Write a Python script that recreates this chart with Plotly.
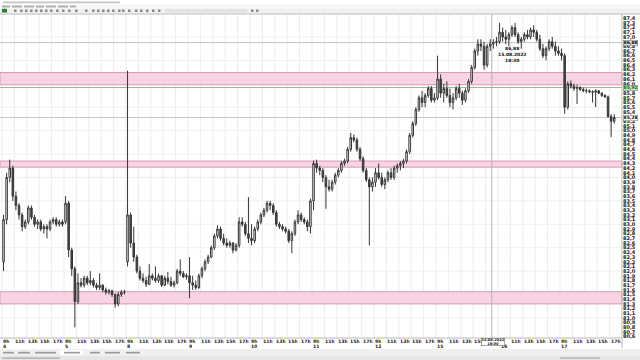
import plotly.graph_objects as go

# ---------------- data (30-min candles) ----------------
day_labels = ["4", "5", "8", "9", "10", "11", "12", "15", "16", "17"]
hour_labels = ["9h", "11h", "13h", "15h", "17h"]

opens = [
    # 4
    82.2,83.1,84.0,84.2,83.6,83.4,83.2,82.95,83.05,83.35,83.15,83.0,83.05,82.9,82.95,82.9,83.05,83.1,83.0,83.05,
    # 5
    83.05,83.45,82.45,82.05,81.35,81.75,81.7,81.85,81.75,81.8,81.7,81.65,81.7,81.6,81.55,81.58,81.5,81.3,81.5,81.55,
    # 8
    82.2,83.2,82.6,82.3,82.0,81.85,81.8,81.72,81.9,81.85,81.8,81.9,81.7,81.85,81.78,81.7,81.75,82.0,81.95,81.88,
    # 9
    81.9,81.75,81.7,81.65,81.9,82.05,82.2,82.3,82.5,82.75,82.9,82.7,82.6,82.55,82.6,82.45,82.55,83.05,83.0,82.8,
    # 10
    82.7,82.65,82.9,83.05,83.2,83.3,83.45,83.4,83.25,83.0,82.95,82.9,82.85,82.65,82.8,83.05,83.2,83.1,83.05,82.95,
    # 11
    83.5,84.3,84.2,84.15,84.0,83.8,83.75,83.9,84.05,84.15,84.3,84.35,84.6,84.85,84.8,84.6,84.4,84.15,83.95,83.8,
    # 12
    83.9,84.1,84.0,83.85,83.95,84.1,84.0,84.2,84.25,84.3,84.35,84.55,84.9,85.15,85.45,85.7,85.6,85.75,85.9,85.65,
    # 15
    85.7,86.1,85.8,85.9,85.75,85.6,85.7,85.9,85.8,85.65,85.85,86.05,86.35,86.7,86.85,86.8,86.4,86.8,86.85,86.88,
    # 16
    86.9,87.1,87.0,86.95,87.05,87.2,87.05,86.9,86.95,87.05,87.0,87.15,87.1,86.95,86.75,86.6,86.75,86.9,86.8,86.7,
    # 17
    86.65,86.6,85.5,86.0,85.95,85.9,85.92,85.88,85.85,85.85,85.83,85.82,85.85,85.8,85.75,85.72,85.3,85.2,
]
highs = [
    83.2,84.1,84.38,84.25,83.7,83.45,83.25,83.1,83.4,83.4,83.2,83.1,83.1,83.0,83.0,83.1,83.15,83.15,83.1,83.1,
    83.6,83.5,82.5,82.1,81.95,81.85,81.9,81.9,82.0,81.85,81.75,81.95,81.72,81.65,81.62,81.6,81.52,81.55,81.6,81.6,
    86.28,83.25,82.95,82.35,82.1,81.95,81.88,82.15,81.95,82.1,81.95,81.92,81.9,81.98,81.88,81.8,82.05,82.25,82.0,81.95,
    82.3,81.9,81.8,81.95,82.1,82.25,82.35,82.55,82.8,82.98,82.95,82.8,82.7,82.65,82.62,82.6,83.15,83.15,83.05,83.58,
    83.0,82.95,83.1,83.25,83.35,83.5,83.5,83.45,83.3,83.05,83.0,82.95,82.9,82.85,83.1,83.3,83.25,83.15,83.1,83.55,
    84.36,84.38,84.25,84.2,84.05,83.95,83.95,84.1,84.2,84.35,84.4,84.65,84.95,84.92,84.85,84.65,84.45,84.2,84.0,84.0,
    84.2,84.3,84.1,84.0,84.15,84.2,84.25,84.3,84.35,84.4,84.6,84.95,85.2,85.5,85.75,85.85,85.8,85.95,85.95,85.8,
    86.6,86.2,86.0,86.05,85.9,85.8,85.95,86.0,85.85,85.9,86.1,86.4,86.75,86.95,86.95,86.9,86.85,86.95,86.95,87.0,
    87.3,87.2,87.15,87.1,87.25,87.3,87.1,87.0,87.1,87.15,87.2,87.25,87.15,87.05,86.85,86.8,86.95,87.0,86.9,86.8,
    86.75,86.65,86.05,86.07,86.0,85.98,85.95,85.92,85.9,85.88,85.86,85.88,85.86,85.82,85.78,85.75,85.35,85.35,
]
lows = [
    82.0,83.0,83.9,83.5,83.3,83.1,82.85,82.9,83.0,83.1,82.95,82.9,82.85,82.8,82.7,82.85,83.0,82.95,82.95,82.95,
    83.0,82.3,81.9,80.8,81.3,81.65,81.65,81.7,81.7,81.65,81.6,81.6,81.55,81.5,81.5,81.45,81.22,81.25,81.45,81.5,
    82.1,82.5,82.2,81.95,81.8,81.75,81.66,81.7,81.8,81.75,81.75,81.66,81.68,81.72,81.66,81.65,81.72,81.9,81.85,81.82,
    81.42,81.6,81.6,81.62,81.85,82.0,82.15,82.28,82.45,82.7,82.65,82.55,82.5,82.5,82.38,82.42,82.5,82.95,82.75,82.6,
    82.55,82.6,82.85,83.0,83.15,83.25,83.3,83.2,82.95,82.9,82.85,82.8,82.6,82.38,82.75,83.0,83.05,83.0,82.85,82.8,
    83.3,84.1,84.05,83.9,83.33,83.7,83.7,83.85,84.0,84.1,84.25,84.3,84.55,84.75,84.55,84.35,84.1,83.9,82.55,83.7,
    83.8,83.95,83.8,83.75,83.9,83.95,83.95,84.1,84.15,84.2,84.3,84.5,84.85,85.1,85.4,85.5,85.5,85.7,85.6,85.6,
    85.65,85.7,85.6,85.7,85.5,85.45,85.65,85.7,85.55,85.6,85.8,86.0,86.3,86.6,86.7,86.3,86.35,86.7,86.75,86.8,
    86.85,86.9,86.85,86.8,87.0,87.0,86.85,86.75,86.9,86.95,86.95,87.0,86.9,86.7,86.55,86.5,86.7,86.75,86.6,86.6,
    86.5,85.36,85.45,85.9,85.85,85.57,85.85,85.82,85.8,85.8,85.6,85.5,85.78,85.72,85.7,85.28,84.86,85.15,
]
closes = [
    83.1,84.0,84.2,83.6,83.4,83.2,82.95,83.05,83.35,83.15,83.0,83.05,82.9,82.95,82.9,83.05,83.1,83.0,83.05,83.0,
    83.45,82.45,82.05,81.35,81.75,81.7,81.85,81.75,81.8,81.7,81.65,81.7,81.6,81.55,81.58,81.5,81.3,81.5,81.55,81.55,
    83.2,82.6,82.3,82.0,81.85,81.8,81.72,81.9,81.85,81.8,81.9,81.7,81.85,81.78,81.7,81.75,82.0,81.95,81.88,81.9,
    81.75,81.7,81.65,81.9,82.05,82.2,82.3,82.5,82.75,82.9,82.7,82.6,82.55,82.6,82.45,82.55,83.05,83.0,82.8,82.7,
    82.65,82.9,83.05,83.2,83.3,83.45,83.4,83.25,83.0,82.95,82.9,82.85,82.65,82.8,83.05,83.2,83.1,83.05,82.95,83.5,
    84.3,84.2,84.15,84.0,83.8,83.75,83.9,84.05,84.15,84.3,84.35,84.6,84.85,84.8,84.6,84.4,84.15,83.95,83.8,83.9,
    84.1,84.0,83.85,83.95,84.1,84.0,84.2,84.25,84.3,84.35,84.55,84.9,85.15,85.45,85.7,85.6,85.75,85.9,85.65,85.7,
    86.1,85.8,85.9,85.75,85.6,85.7,85.9,85.8,85.65,85.85,86.05,86.35,86.7,86.85,86.8,86.4,86.8,86.85,86.88,86.9,
    87.1,87.0,86.95,87.05,87.2,87.05,86.9,86.95,87.05,87.0,87.15,87.1,86.95,86.75,86.6,86.75,86.9,86.8,86.7,86.65,
    86.6,85.5,86.0,85.95,85.9,85.92,85.88,85.85,85.85,85.83,85.82,85.85,85.8,85.75,85.72,85.3,85.2,85.28,
]

zones = [(85.98, 86.24), (84.22, 84.35), (81.30, 81.56)]   # pink support/resistance zones
level_green = 85.92
level_last = 85.28
cross_price = 86.88
cross_time_label = "15.08.2022<br>18:30"

# ---------------- build x positions (hours since first session open) ----------------
HOURS_PER_DAY = 10
n_per_day = [20] * 9 + [18]
xs = []
for d, n in enumerate(n_per_day):
    for s in range(n):
        xs.append(d * HOURS_PER_DAY + s * 0.5 + 0.25)

cross_x = 7 * HOURS_PER_DAY + 9.0

fig = go.Figure()
fig.add_trace(go.Candlestick(
    x=xs, open=opens, high=highs, low=lows, close=closes,
    increasing=dict(line=dict(color="#363636", width=1), fillcolor="#ffffff"),
    decreasing=dict(line=dict(color="#363636", width=1), fillcolor="#484848"),
    whiskerwidth=0, showlegend=False, hoverinfo="skip",
))

PW, PH = 622.0, 324.0   # plot area size in px (for paper-coordinate chrome)
def px_x(p):
    return p / PW
def px_y(p):          # p = pixel row from top of the page
    return (338 - p) / PH

shapes = []
# grid lines (drawn first so the zones cover them)
for gx in range(0, 100, 2):
    shapes.append(dict(type="line", xref="x", yref="paper", x0=gx, x1=gx, y0=0, y1=1,
                       line=dict(color="#ececec", width=1), layer="below"))
for i in range(14):
    gy = 81.0 + 0.5 * i
    shapes.append(dict(type="line", xref="paper", yref="y", x0=0, x1=1, y0=gy, y1=gy,
                       line=dict(color="#efefef", width=1), layer="below"))
for lo, hi in zones:
    shapes.append(dict(type="rect", xref="paper", yref="y", x0=0, x1=1, y0=lo, y1=hi,
                       fillcolor="#f7d3e4", line=dict(color="#d49bb4", width=1), layer="below"))
shapes.append(dict(type="line", xref="paper", yref="y", x0=0, x1=1, y0=level_green, y1=level_green,
                   line=dict(color="#86c986", width=1), layer="below"))
shapes.append(dict(type="line", xref="paper", yref="y", x0=0, x1=1, y0=level_last, y1=level_last,
                   line=dict(color="#c8c8c8", width=1), layer="below"))
shapes.append(dict(type="line", xref="paper", yref="y", x0=0, x1=1, y0=cross_price, y1=cross_price,
                   line=dict(color="#c4c4c4", width=1), layer="below"))
shapes.append(dict(type="line", xref="x", yref="paper", x0=cross_x, x1=cross_x, y0=0, y1=1,
                   line=dict(color="#b4b4b4", width=1), layer="below"))

# window chrome: title bar, menu, toolbar, tabs, status bar
chrome = [
    (0, 0, 640, 4.5, "#ffffff"),
    (0, 4.5, 640, 8.5, "#f7f7f7"),
    (0, 8.5, 640, 13.5, "#f0f0f0"),
    (0, 349, 640, 355.5, "#f0f0f0"),
    (0, 355.5, 640, 360, "#e6e6e6"),
    (165, 9, 247, 12.5, "#e2e2e2"),
    (2, 8.8, 7, 12.5, "#2f7d3f"),
    (60, 350, 83, 355, "#ffffff"),
]
for x0, y0, x1, y1, col in chrome:
    shapes.append(dict(type="rect", xref="paper", yref="paper", x0=px_x(x0), x1=px_x(x1),
                       y0=px_y(y1), y1=px_y(y0), fillcolor=col, line=dict(width=0), layer="below"))
# toolbar icon marks
for xi in [14, 20, 25, 30, 35, 40, 45, 50, 56, 62, 68, 75, 85, 92, 97, 102, 107, 112, 118, 122,
           128, 135, 140, 146, 152, 158, 251, 256]:
    shapes.append(dict(type="rect", xref="paper", yref="paper", x0=px_x(xi), x1=px_x(xi + 2.5),
                       y0=px_y(12), y1=px_y(9.5), fillcolor="#8a8a8a", line=dict(width=0), layer="below"))
# menu / title / tab / status text marks
for x0, x1 in [(2, 10), (12, 22), (24, 34), (36, 44), (46, 56), (58, 68), (70, 76)]:
    shapes.append(dict(type="rect", xref="paper", yref="paper", x0=px_x(x0), x1=px_x(x1),
                       y0=px_y(7.5), y1=px_y(5.5), fillcolor="#b0b0b0", line=dict(width=0), layer="below"))
shapes.append(dict(type="rect", xref="paper", yref="paper", x0=px_x(3), x1=px_x(120),
                   y0=px_y(3.2), y1=px_y(1.4), fillcolor="#c4c4c4", line=dict(width=0), layer="below"))
for x0, x1 in [(3, 14), (18, 30), (35, 56), (64, 80), (90, 100), (105, 120), (126, 140)]:
    shapes.append(dict(type="rect", xref="paper", yref="paper", x0=px_x(x0), x1=px_x(x1),
                       y0=px_y(353.5), y1=px_y(351.8), fillcolor="#9a9a9a", line=dict(width=0), layer="below"))
shapes.append(dict(type="rect", xref="paper", yref="paper", x0=px_x(2), x1=px_x(60),
                   y0=px_y(358.8), y1=px_y(357.4), fillcolor="#a8a8a8", line=dict(width=0), layer="below"))
shapes.append(dict(type="rect", xref="paper", yref="paper", x0=px_x(560), x1=px_x(600),
                   y0=px_y(358.8), y1=px_y(357.4), fillcolor="#a8a8a8", line=dict(width=0), layer="below"))
shapes += [
    dict(type="line", xref="paper", yref="paper", x0=0, x1=px_x(640), y0=1, y1=1,
         line=dict(color="#b8b8b8", width=1)),
    dict(type="line", xref="paper", yref="paper", x0=1, x1=1, y0=px_y(348), y1=1,
         line=dict(color="#b8b8b8", width=1)),
    dict(type="line", xref="paper", yref="paper", x0=0, x1=1, y0=0, y1=0,
         line=dict(color="#b8b8b8", width=1)),
]

ann = []
lblfont = dict(family="DejaVu Sans", size=4.6, color="#222", weight="bold")
for d, lab in enumerate(day_labels):
    for k, hl in enumerate(hour_labels):
        xv = d * HOURS_PER_DAY + 2 * k
        if (d == 7 and k == 4) or (d == 8 and k == 0):
            continue   # hidden under the crosshair time box
        ann.append(dict(x=xv, y=px_y(341.0), xref="x", yref="paper", text=hl, showarrow=False,
                        xanchor="left", yanchor="middle", height=4, borderpad=0, font=lblfont))
    dx = d * HOURS_PER_DAY + (0.4 if d == 8 else 0)
    ann.append(dict(x=dx, y=px_y(346.4), xref="x", yref="paper", text=lab, showarrow=False,
                    xanchor="left", yanchor="middle", height=4, borderpad=0, font=lblfont))
# crosshair time box on the x axis
ann.append(dict(x=cross_x, y=px_y(338.5), xref="x", yref="paper", text=cross_time_label, showarrow=False,
                xanchor="center", yanchor="top", xshift=1.5, bgcolor="#ffffff", bordercolor="#555",
                borderwidth=0.5, borderpad=0, height=7,
                font=dict(family="DejaVu Sans", size=3.6, color="#111", weight="bold")))
# crosshair info label in plot
ann.append(dict(x=cross_x + 0.6, y=cross_price - 0.04, xref="x", yref="y",
                text="86,88<br>15.08.2022<br>18:30", showarrow=False, xanchor="left", yanchor="top",
                font=dict(family="DejaVu Sans", size=4.5, color="#111", weight="bold")))
# price labels on right axis
for val, txt, bg, fc in [(cross_price, "86,88", "#d9d9d9", "#111"), (level_green, "85,92", "#bfe8bf", "#1a6b1a"),
                         (level_last, "85,28", "#ffffff", "#111")]:
    ann.append(dict(x=1.002, y=val, xref="paper", yref="y", text=txt, showarrow=False, xanchor="left",
                    yanchor="middle", bgcolor=bg, bordercolor="#777", borderwidth=0.5, borderpad=0,
                    height=4.5, font=dict(family="DejaVu Sans", size=4.5, color=fc, weight="bold")))

hidden = {86.9, 85.9, 85.3}   # covered by the boxed price labels
tickvals = [round(80.6 + 0.1 * i, 1) for i in range(69)]
ticktext = ["" if v in hidden else f"{v:.1f}".replace(".", ",") for v in tickvals]

fig.update_layout(
    width=640, height=360, margin=dict(l=0, r=18, t=14, b=22),
    paper_bgcolor="#ffffff", plot_bgcolor="#ffffff",
    shapes=shapes, annotations=ann,
    xaxis=dict(range=[-0.32, 100], rangeslider=dict(visible=False), showticklabels=False,
               showgrid=False, zeroline=False, showline=False),
    yaxis=dict(side="right", range=[80.572, 87.49], tickmode="array", tickvals=tickvals, ticktext=ticktext,
               tickfont=dict(family="DejaVu Sans", size=5, color="#222", weight="bold"),
               showgrid=False, zeroline=False, ticks="", ticklen=0),
)
fig.write_html("out.html")
